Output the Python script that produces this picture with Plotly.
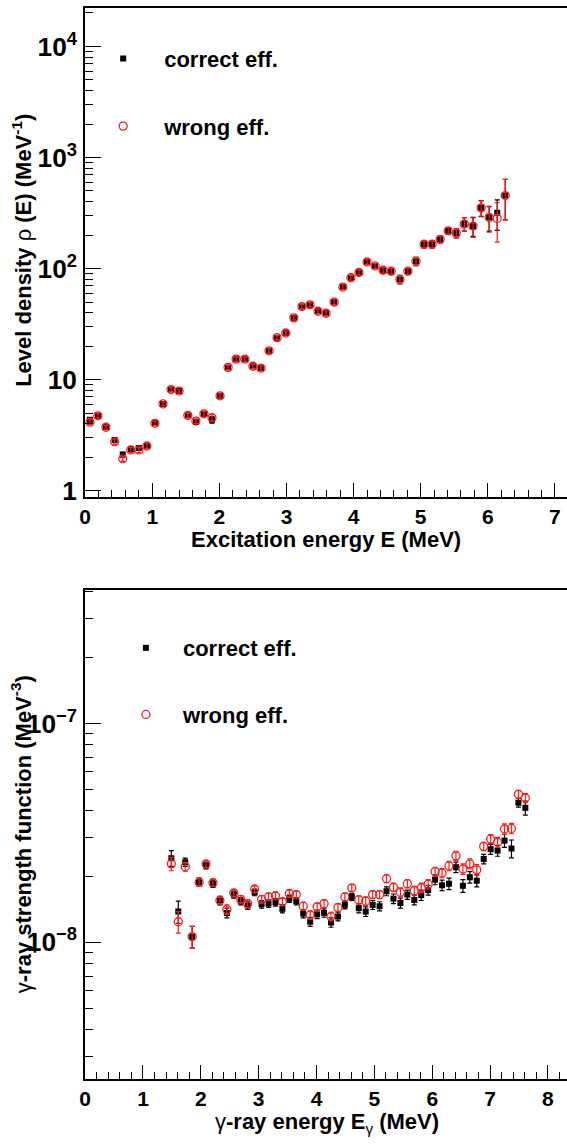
import plotly.graph_objects as go

# ---------------- Top panel: level density ----------------
E_exc = [0.07, 0.19, 0.31, 0.44, 0.56, 0.68, 0.80, 0.92, 1.04, 1.16, 1.28, 1.40, 1.53,
         1.65, 1.77, 1.89, 2.01, 2.13, 2.25, 2.38, 2.50, 2.62, 2.74, 2.86, 2.99, 3.11,
         3.23, 3.35, 3.47, 3.59, 3.71, 3.84, 3.96, 4.08, 4.20, 4.32, 4.44, 4.56, 4.69,
         4.81, 4.93, 5.05, 5.17, 5.29, 5.41, 5.53, 5.65, 5.78, 5.90, 6.02, 6.14, 6.26]
rho_correct = [4.36, 4.73, 3.73, 2.86, 2.12, 2.38, 2.43, 2.53, 4.05, 6.05, 8.15, 7.9, 4.77,
               4.15, 4.93, 4.36, 7.16, 12.9, 15.3, 15.3, 13.2, 12.7, 18.2, 23.9, 26.3, 36.0,
               45.5, 47.2, 41.3, 39.6, 49.9, 68.2, 82.7, 92.2, 114.6, 105.6, 96.6, 94.6, 79.8,
               94.6, 116, 165.6, 165.6, 183.5, 218.8, 208.6, 252, 241, 352, 289, 318, 454]
rho_correct_err = [0.2, 0.2, 0.15, 0.15, 0.1, 0.12, 0.12, 0.12, 0.18, 0.25, 0.3, 0.3, 0.2,
                   0.2, 0.22, 0.3, 0.3, 0.5, 0.6, 0.6, 0.55, 0.55, 0.75, 1.0, 1.1, 1.5,
                   1.9, 2.0, 1.9, 1.9, 2.5, 3.3, 4.0, 4.5, 5.5, 5.5, 5.5, 5.5, 7.0,
                   6.0, 10, 12, 12, 12, 15, 20, 35, 46, 58, 75, 97, 180]
rho_wrong = [4.15, 4.73, 3.73, 2.76, 1.94, 2.33, 2.33, 2.53, 4.05, 6.05, 8.15, 7.9, 4.77,
             4.24, 4.93, 4.54, 7.16, 12.9, 15.3, 15.3, 13.2, 12.7, 18.2, 23.9, 26.3, 36.0,
             45.5, 47.2, 41.3, 39.6, 49.9, 68.2, 82.7, 92.2, 114.6, 105.6, 96.6, 94.6, 79.8,
             94.6, 116, 165.6, 165.6, 183.5, 218.8, 208.6, 252, 241, 352, 289, 283, 454]
rho_wrong_err = [0.2, 0.2, 0.15, 0.15, 0.1, 0.12, 0.12, 0.12, 0.18, 0.25, 0.3, 0.3, 0.2,
                 0.2, 0.22, 0.3, 0.3, 0.5, 0.6, 0.6, 0.55, 0.55, 0.75, 1.0, 1.1, 1.5,
                 1.9, 2.0, 1.9, 1.9, 2.5, 3.3, 4.0, 4.5, 5.5, 5.5, 5.5, 5.5, 6.0,
                 6.0, 10, 12, 12, 12, 15, 20, 35, 50, 55, 70, 110, 180]

# ---------------- Bottom panel: gamma-ray strength function ----------------
E_gam = [1.49, 1.61, 1.73, 1.85, 1.97, 2.09, 2.21, 2.33, 2.45, 2.57, 2.69, 2.81, 2.93,
         3.05, 3.17, 3.29, 3.41, 3.53, 3.65, 3.77, 3.89, 4.01, 4.13, 4.25, 4.37, 4.49,
         4.61, 4.73, 4.85, 4.97, 5.09, 5.21, 5.33, 5.45, 5.57, 5.69, 5.81, 5.93, 6.05,
         6.17, 6.29, 6.41, 6.53, 6.65, 6.77, 6.89, 7.01, 7.13, 7.25, 7.37, 7.49, 7.61]
f_correct = [2.42e-8, 1.38e-8, 2.32e-8, 1.06e-8, 1.88e-8, 2.24e-8, 1.85e-8, 1.55e-8, 1.36e-8,
             1.65e-8, 1.54e-8, 1.47e-8, 1.69e-8, 1.49e-8, 1.50e-8, 1.52e-8, 1.42e-8, 1.58e-8,
             1.54e-8, 1.35e-8, 1.24e-8, 1.34e-8, 1.36e-8, 1.23e-8, 1.31e-8, 1.48e-8, 1.61e-8,
             1.43e-8, 1.38e-8, 1.48e-8, 1.46e-8, 1.71e-8, 1.58e-8, 1.51e-8, 1.65e-8, 1.56e-8,
             1.64e-8, 1.73e-8, 1.93e-8, 1.82e-8, 1.85e-8, 2.20e-8, 1.81e-8, 1.98e-8, 1.91e-8,
             2.40e-8, 2.66e-8, 2.62e-8, 2.91e-8, 2.68e-8, 4.34e-8, 4.11e-8]
f_correct_err = [0.20e-8, 0.16e-8, 0.10e-8, 0.12e-8, 0.08e-8, 0.08e-8, 0.07e-8, 0.07e-8, 0.07e-8,
                 0.06e-8, 0.06e-8, 0.06e-8, 0.06e-8, 0.06e-8, 0.06e-8, 0.06e-8, 0.06e-8, 0.06e-8,
                 0.06e-8, 0.06e-8, 0.06e-8, 0.06e-8, 0.06e-8, 0.06e-8, 0.06e-8, 0.06e-8, 0.06e-8,
                 0.07e-8, 0.07e-8, 0.07e-8, 0.07e-8, 0.08e-8, 0.08e-8, 0.08e-8, 0.08e-8, 0.08e-8,
                 0.09e-8, 0.09e-8, 0.10e-8, 0.10e-8, 0.11e-8, 0.12e-8, 0.12e-8, 0.12e-8, 0.12e-8,
                 0.12e-8, 0.14e-8, 0.15e-8, 0.20e-8, 0.25e-8, 0.20e-8, 0.30e-8]
f_wrong = [2.28e-8, 1.24e-8, 2.21e-8, 1.06e-8, 1.88e-8, 2.28e-8, 1.87e-8, 1.55e-8, 1.41e-8,
           1.68e-8, 1.57e-8, 1.50e-8, 1.75e-8, 1.57e-8, 1.61e-8, 1.63e-8, 1.53e-8, 1.67e-8,
           1.65e-8, 1.46e-8, 1.33e-8, 1.45e-8, 1.50e-8, 1.31e-8, 1.44e-8, 1.61e-8, 1.77e-8,
           1.56e-8, 1.54e-8, 1.65e-8, 1.65e-8, 1.95e-8, 1.78e-8, 1.69e-8, 1.85e-8, 1.72e-8,
           1.77e-8, 1.84e-8, 2.10e-8, 2.07e-8, 2.23e-8, 2.48e-8, 2.16e-8, 2.28e-8, 2.14e-8,
           2.74e-8, 2.96e-8, 2.86e-8, 3.29e-8, 3.31e-8, 4.74e-8, 4.56e-8]
f_wrong_err = [0.16e-8, 0.14e-8, 0.10e-8, 0.12e-8, 0.08e-8, 0.08e-8, 0.07e-8, 0.07e-8, 0.07e-8,
               0.06e-8, 0.06e-8, 0.06e-8, 0.06e-8, 0.06e-8, 0.06e-8, 0.06e-8, 0.06e-8, 0.06e-8,
               0.06e-8, 0.06e-8, 0.06e-8, 0.06e-8, 0.06e-8, 0.06e-8, 0.06e-8, 0.06e-8, 0.06e-8,
               0.07e-8, 0.07e-8, 0.07e-8, 0.07e-8, 0.08e-8, 0.08e-8, 0.08e-8, 0.08e-8, 0.08e-8,
               0.09e-8, 0.09e-8, 0.10e-8, 0.10e-8, 0.11e-8, 0.12e-8, 0.12e-8, 0.12e-8, 0.12e-8,
               0.12e-8, 0.14e-8, 0.15e-8, 0.18e-8, 0.18e-8, 0.20e-8, 0.22e-8]

W, H = 567, 1144
FONT = "Liberation Sans, Arial, Helvetica, sans-serif"
RED = "#ff1a1a"


def px_x(p):
    return p / W


def px_y(p):
    return 1 - p / H


fig = go.Figure()


def add_pair(x, yc, ec, yw, ew, xa, ya, leg):
    fig.add_trace(go.Scatter(
        x=x, y=yc, mode="markers", name="correct eff.", xaxis=xa, yaxis=ya,
        legend=leg, legendgroup=leg + "c",
        marker=dict(symbol="square", size=6, color="black"),
        error_y=dict(type="data", array=ec, color="black", thickness=1.2, width=2.5)))
    fig.add_trace(go.Scatter(
        x=x, y=yw, mode="markers", name="wrong eff.", xaxis=xa, yaxis=ya,
        legend=leg, legendgroup=leg + "w",
        marker=dict(symbol="circle-open", size=8, color=RED, line=dict(width=1.3, color=RED)),
        error_y=dict(type="data", array=ew, color=RED, thickness=1.2, width=2.5)))


add_pair(E_exc, rho_correct, rho_correct_err, rho_wrong, rho_wrong_err, "x", "y", "legend")
add_pair(E_gam, f_correct, f_correct_err, f_wrong, f_wrong_err, "x2", "y2", "legend2")

tickfont = dict(family=FONT, size=21, color="black", weight="bold")


def xaxis_cfg(rng, ydomain_anchor):
    return dict(
        domain=[px_x(80), 1], range=rng, anchor=ydomain_anchor,
        showline=True, linecolor="black", linewidth=2, mirror=True,
        ticks="inside", ticklen=14, tickwidth=1.3, tickcolor="black",
        tick0=0, dtick=1, showgrid=False, zeroline=False,
        minor=dict(ticks="inside", ticklen=7, tickwidth=1.3, tickcolor="black", dtick=0.2, showgrid=False),
        tickfont=tickfont, ticklabelstandoff=0,
    )


def yaxis_cfg(dom, rng, xanchor):
    return dict(
        domain=dom, type="log", range=rng, anchor=xanchor,
        showline=True, linecolor="black", linewidth=2, mirror=False,
        ticks="inside", ticklen=16, tickwidth=1.3, tickcolor="black",
        dtick=1, exponentformat="power", showgrid=False, zeroline=False,
        minor=dict(ticks="inside", ticklen=8, tickwidth=1.3, tickcolor="black", dtick="D1", showgrid=False),
        tickfont=tickfont, ticklabelstandoff=2,
    )


fig.update_layout(
    width=W, height=H, margin=dict(l=0, r=0, t=0, b=0),
    paper_bgcolor="white", plot_bgcolor="white",
    font=dict(family=FONT, color="black"),
    xaxis=xaxis_cfg([0, 7.18], "y"),
    yaxis=yaxis_cfg([px_y(500.7), px_y(8)], [-0.054, 4.346], "x"),
    xaxis2=xaxis_cfg([0, 8.33], "y2"),
    yaxis2=yaxis_cfg([px_y(1087.7), px_y(595)], [-8.626, -6.392], "x2"),
    legend=dict(x=px_x(77), y=px_y(38), xanchor="left", yanchor="top",
                font=dict(family=FONT, size=22, weight="bold"),
                bgcolor="rgba(0,0,0,0)", tracegroupgap=36, itemsizing="trace", itemwidth=72),
    legend2=dict(x=px_x(104), y=px_y(632), xanchor="left", yanchor="top",
                 font=dict(family=FONT, size=22, weight="bold"),
                 bgcolor="rgba(0,0,0,0)", tracegroupgap=35, itemsizing="trace", itemwidth=64),
)

title_font = dict(family=FONT, size=22, color="black", weight="bold")
annos = [
    dict(text="Excitation energy E (MeV)", x=px_x(323), y=px_y(544)),
    dict(text="Level density <span style='font-weight:normal'>ρ</span> (E) (MeV<sup>-1</sup>)",
         x=px_x(16), y=px_y(252), textangle=-90),
    dict(text="<span style='font-weight:normal'>γ</span>-ray energy E<sub><span style='font-weight:normal'>γ</span></sub> (MeV)",
         x=px_x(324), y=px_y(1132)),
    dict(text="<span style='font-weight:normal'>γ</span>-ray strength function (MeV<sup>-3</sup>)",
         x=px_x(16), y=px_y(841), textangle=-90),
]
for a in annos:
    fig.add_annotation(xref="paper", yref="paper", showarrow=False,
                       xanchor="center", yanchor="middle", font=title_font, **a)

fig.write_html("out.html")
